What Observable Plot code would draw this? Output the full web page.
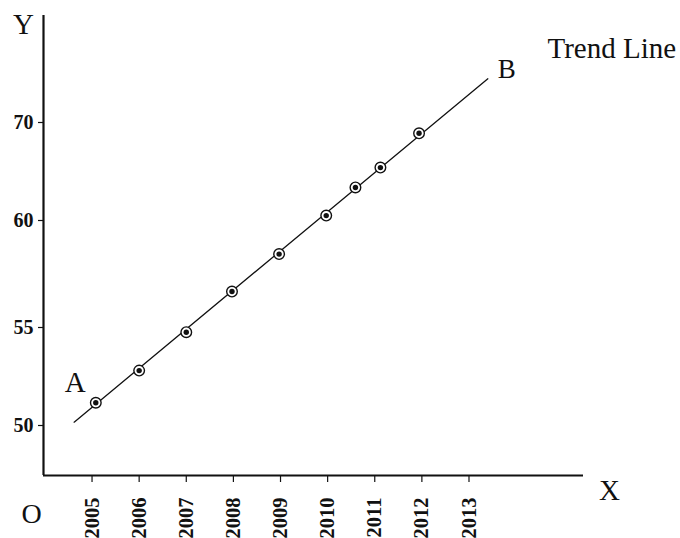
<!DOCTYPE html>
<html>
<head>
<meta charset="utf-8">
<script src="https://cdn.jsdelivr.net/npm/d3@7"></script>
<script src="https://cdn.jsdelivr.net/npm/@observablehq/plot@0.6"></script>
<style>
  html, body { margin: 0; padding: 0; background: #fff; }
</style>
</head>
<body>
<div id="chart"></div>
<script>
// Observed points (year, value)
const years  = [2005.08, 2006, 2007, 2007.97, 2008.97, 2009.97, 2010.59, 2011.12, 2011.94];
const values = [51.16, 52.8, 54.76, 56.68, 58.43, 60.5, 63.37, 65.4, 68.9];

// Trend line endpoints A and B
const trendYears  = [2004.62, 2013.40];
const trendValues = [50.17, 74.46];
const trendLabels = ["A", "B"];

// Tick labels
const xTicks = [2005, 2006, 2007, 2008, 2009, 2010, 2011, 2012, 2013];
const yTicks = [50, 55, 60, 70];

// Axis origin values
const xOrigin = 2003.97;
const xEnd = 2015.43;
const yOrigin = 47.45;

const points = years.map((x, i) => ({x, y: values[i]}));
const trend = trendYears.map((x, i) => ({x, y: trendValues[i], label: trendLabels[i]}));

const serif = "'Liberation Serif', 'Times New Roman', serif";

const chart = Plot.plot({
  width: 680,
  height: 538,
  marginLeft: 43,
  marginRight: 97,
  marginTop: 15,
  marginBottom: 63,
  style: {fontFamily: serif, fontSize: "20px", color: "#111", background: "#fff", overflow: "visible"},
  x: {type: "linear", domain: [xOrigin, xEnd]},
  y: {type: "linear", domain: yTicks, range: [425, 327, 220, 122]},
  marks: [
    Plot.axisX({ticks: xTicks, tickFormat: "d", tickRotate: -90, tickSize: 7, tickPadding: 15,
      fontWeight: "bold", fontSize: 20.5, label: null, strokeWidth: 1.2}),
    Plot.axisY({ticks: yTicks, tickFormat: "d", tickSize: 5, tickPadding: 5,
      fontWeight: "bold", fontSize: 20, label: null, strokeWidth: 1.2}),
    Plot.ruleX([xOrigin], {stroke: "#111", strokeWidth: 2.2}),
    Plot.ruleY([yOrigin], {stroke: "#111", strokeWidth: 2.2}),
    Plot.line(trend, {x: "x", y: "y", stroke: "#111", strokeWidth: 1.3}),
    Plot.dot(points, {x: "x", y: "y", r: 5.3, fill: "white", stroke: "#111", strokeWidth: 1.4}),
    Plot.dot(points, {x: "x", y: "y", r: 2.7, fill: "#111", stroke: "none"}),
    Plot.text(trend, {filter: (d, i) => i === 0, x: "x", y: "y", text: "label", dx: 1, dy: -30,
      lineAnchor: "bottom", fontSize: 29, fill: "#111"}),
    Plot.text(trend, {filter: (d, i) => i === 1, x: "x", y: "y", text: "label", dx: 19, dy: -1,
      lineAnchor: "bottom", fontSize: 27, fill: "#111"}),
    Plot.text(["Y"], {frameAnchor: "top-left", textAnchor: "middle", dx: -20, dy: 18, lineAnchor: "bottom", fontSize: 29, fill: "#111"}),
    Plot.text(["X"], {frameAnchor: "bottom-right", textAnchor: "middle", dx: 26, dy: 24, lineAnchor: "bottom", fontSize: 29, fill: "#111"}),
    Plot.text(["O"], {frameAnchor: "bottom-left", textAnchor: "middle", dx: -12, dy: 47, lineAnchor: "bottom", fontSize: 28, fill: "#111"}),
    Plot.text(["Trend Line"], {frameAnchor: "top-right", dx: -36, dy: 42, textAnchor: "start",
      lineAnchor: "bottom", fontSize: 29, fill: "#111"})
  ]
});

document.getElementById("chart").appendChild(chart);
</script>
</body>
</html>
